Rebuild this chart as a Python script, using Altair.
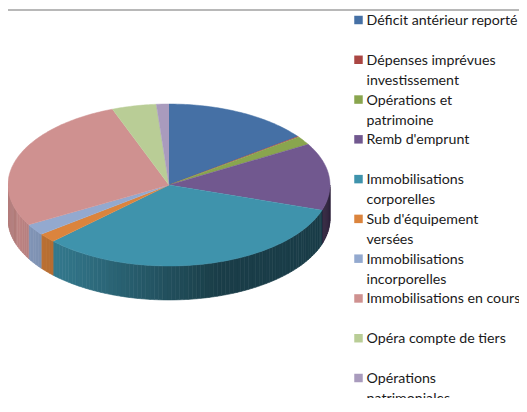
import math
import altair as alt
import pandas as pd

categories = ["Déficit antérieur reporté", "Dépenses imprévues investissement", "Opérations et patrimoine",
              "Remb d'emprunt", "Immobilisations corporelles", "Sub d'équipement versées",
              "Immobilisations incorporelles", "Immobilisations en cours", "Opéra compte de tiers",
              "Opérations patrimoniales"]
wrapped = ["Déficit antérieur reporté", "Dépenses imprévues\ninvestissement", "Opérations et\npatrimoine",
           "Remb d'emprunt", "Immobilisations\ncorporelles", "Sub d'équipement\nversées",
           "Immobilisations\nincorporelles", "Immobilisations en cours", "Opéra compte de tiers",
           "Opérations\npatrimoniales"]
values = [14.75, 0.15, 1.7, 13.4, 32.7, 1.8, 2.25, 27.4, 4.45, 1.25]
colors = ["#4570a5", "#aa4643", "#89a54e", "#71588f", "#3f93ac", "#db843d", "#93a9cf", "#cf9190", "#b9cd96", "#a99bbd"]

W, H = 511, 390
RX_PX, CX_PX, CY_PX, RY, DEPTH = 161, 161, 177, 0.503, 0.211
xdom = [-CX_PX / RX_PX, (W - CX_PX) / RX_PX]
ydom = [(CY_PX - H) / RX_PX, CY_PX / RX_PX]
total = sum(values)


def shade(hex_c, f):
    r, g, b = [int(hex_c[i:i + 2], 16) for i in (1, 3, 5)]
    return "#%02x%02x%02x" % (int(r * f), int(g * f), int(b * f))


def wall_factor(sx):
    # darker towards the lower right, as in a lit 3-D pie
    if sx < -0.95:
        return 0.86
    if sx < 0.3:
        return 0.92 - (sx + 0.95) * (0.92 - 0.42) / 1.25
    return 0.42


top_rows, wall_rows = [], []
cum = 0.0
for k, (cat, v, col) in enumerate(zip(categories, values, colors)):
    a0 = cum / total * 2 * math.pi
    cum += v
    a1 = cum / total * 2 * math.pi
    n = max(2, int((a1 - a0) / math.radians(1)) + 1)
    top_rows.append({"cat": cat, "i": 0, "x": 0.0, "y": 0.0})
    for j in range(n + 1):
        t = a0 + (a1 - a0) * j / n
        top_rows.append({"cat": cat, "i": j + 1, "x": math.sin(t), "y": RY * math.cos(t)})
    lo, hi = max(a0, math.pi / 2), min(a1, 3 * math.pi / 2)
    if hi > lo:
        m = max(1, int((hi - lo) / math.radians(1.5)))
        for j in range(m):
            t0 = lo + (hi - lo) * j / m
            t1 = lo + (hi - lo) * (j + 1) / m
            f = wall_factor(math.sin((t0 + t1) / 2))
            c = shade(col, f)
            for t in (t0, t1):
                y = RY * math.cos(t)
                wall_rows.append({"strip": f"{k}-{j}", "x": math.sin(t), "y": y, "y2": y - DEPTH, "c": c})

top_df = pd.DataFrame(top_rows)
wall_df = pd.DataFrame(wall_rows)
legend_df = pd.DataFrame({"cat": categories, "label": wrapped, "row": list(range(len(categories)))})

xs = alt.Scale(domain=xdom, range=[0, W], nice=False, zero=False)
ys = alt.Scale(domain=ydom, range=[H, 0], nice=False, zero=False)
color = alt.Color("cat:N", scale=alt.Scale(domain=categories, range=colors), legend=None)
fillc = alt.Fill("cat:N", scale=alt.Scale(domain=categories, range=colors), legend=None)
rows = alt.Scale(domain=[0, 9], range=[12, 370], nice=False, zero=False)

walls = alt.Chart(wall_df).mark_area(strokeWidth=0.6).encode(
    x=alt.X("x:Q", scale=xs, axis=None),
    y=alt.Y("y:Q", scale=ys, axis=None),
    y2="y2:Q",
    detail="strip:N",
    fill=alt.Fill("c:N", scale=None),
    stroke=alt.Stroke("c:N", scale=None),
)
faces = alt.Chart(top_df).mark_line(strokeWidth=0.5, interpolate="linear").encode(
    x=alt.X("x:Q", scale=xs, axis=None),
    y=alt.Y("y:Q", scale=ys, axis=None),
    color=color,
    fill=fillc,
    order="i:Q",
)
swatches = alt.Chart(legend_df).mark_square(size=72, opacity=1).encode(
    x=alt.value(350.5),
    y=alt.Y("row:Q", scale=rows, axis=None),
    color=color,
)
labels = alt.Chart(legend_df).mark_text(
    align="left", baseline="alphabetic", dy=5, font="Lato", fontSize=14.2, lineBreak="\n", lineHeight=20, color="#1a1a1a"
).encode(
    x=alt.value(358.5),
    y=alt.Y("row:Q", scale=rows, axis=None),
    text="label:N",
)
frame = alt.Chart(pd.DataFrame({"a": [0]})).mark_rule(color="#a0a0a0", strokeWidth=1.5).encode(
    x=alt.value(0), x2=alt.value(W), y=alt.value(2)
)

chart = (
    alt.layer(alt.layer(walls, faces), alt.layer(swatches, labels), frame)
    .resolve_scale(y="independent", x="independent", color="independent")
    .properties(width=W, height=H, padding=0, background="white",
                autosize=alt.AutoSizeParams(type="none"))
    .configure_view(stroke=None)
)
chart.save("out.html", embed_options={"renderer": "svg", "actions": False})
